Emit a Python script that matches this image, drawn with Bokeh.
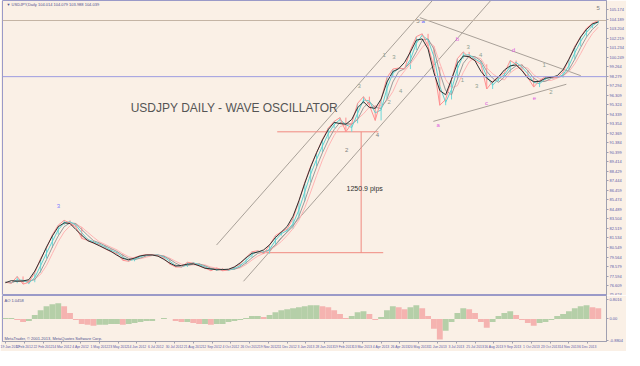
import pandas as pd
from bokeh.plotting import figure
from bokeh.layouts import column
from bokeh.models import FixedTicker, Label, Span
from bokeh.core.properties import value
from bokeh.embed import file_html
from bokeh.resources import INLINE

# ---------------- data (weekly samples of the daily chart, bar index step 5) ----------------
close = [76.95, 76.85, 77.55, 76.76, 76.95, 77.94, 79.42, 80.50, 81.88, 82.86,
         83.36, 83.06, 82.67, 81.49, 81.29, 80.99, 80.79, 80.40, 80.11, 79.91,
         79.22, 79.12, 79.52, 79.71, 79.81, 79.81, 79.71, 79.42, 78.83, 78.53,
         78.53, 79.02, 78.92, 78.63, 78.43, 78.14, 78.43, 78.14, 78.23, 78.53,
         78.83, 79.52, 80.11, 80.21, 79.91, 80.79, 81.78, 82.17, 82.47, 83.55,
         85.33, 87.30, 88.97, 90.35, 91.73, 92.91, 93.60, 93.99, 92.52, 93.40,
         95.47, 96.16, 95.27, 93.70, 95.87, 98.13, 99.02, 99.12, 99.02, 100.99,
         102.37, 102.66, 101.38, 99.22, 95.27, 95.87, 97.93, 100.10, 100.79, 100.20,
         99.90, 99.51, 96.95, 97.74, 98.23, 98.62, 99.90, 99.51, 98.92, 98.13,
         97.15, 97.84, 98.23, 98.13, 98.13, 98.72, 100.00, 101.38, 102.37, 103.25,
         103.75, 104.04]
osc = [0.04, 0.04, -0.04, -0.12, -0.08, 0.16, 0.36, 0.52, 0.60, 0.64,
       0.52, 0.24, -0.04, -0.20, -0.24, -0.28, -0.24, -0.24, -0.20, -0.20,
       -0.24, -0.20, -0.16, -0.12, -0.08, -0.08, 0.00, 0.04, 0.00, -0.08,
       -0.12, -0.12, -0.16, -0.20, -0.20, -0.24, -0.20, -0.20, -0.12, -0.08,
       -0.04, 0.04, 0.12, 0.12, 0.08, 0.16, 0.28, 0.36, 0.40, 0.44,
       0.48, 0.52, 0.56, 0.56, 0.52, 0.48, 0.36, 0.20, 0.04, 0.12,
       0.28, 0.32, 0.20, -0.04, 0.08, 0.36, 0.52, 0.48, 0.40, 0.48,
       0.56, 0.44, 0.12, -0.40, -0.84, -0.48, -0.12, 0.24, 0.44, 0.40,
       0.24, -0.12, -0.36, -0.12, 0.12, 0.24, 0.32, 0.16, -0.04, -0.16,
       -0.28, -0.16, -0.12, -0.04, 0.12, 0.20, 0.32, 0.44, 0.52, 0.56,
       0.48, 0.44]
bar_step = 5

date_labels = ["19 Jan 2012", "3 Feb 2012", "22 Feb 2012", "14 Mar 2012", "4 Apr 2012",
               "1 May 2012", "23 May 2012", "14 Jun 2012", "6 Jul 2012", "30 Jul 2012",
               "21 Aug 2012", "12 Sep 2012", "4 Oct 2012", "26 Oct 2012", "19 Nov 2012",
               "11 Dec 2012", "3 Jan 2013", "28 Jan 2013", "19 Feb 2013", "13 Mar 2013",
               "4 Apr 2013", "26 Apr 2013", "20 May 2013", "11 Jun 2013", "3 Jul 2013",
               "25 Jul 2013", "16 Aug 2013", "9 Sep 2013", "1 Oct 2013", "23 Oct 2013",
               "14 Nov 2013", "6 Dec 2013"]
date_tick_step = 16

price_ticks = [105.174, 104.189, 103.204, 102.219, 101.234, 100.249, 99.264, 98.279,
               97.294, 96.309, 95.324, 94.339, 93.354, 92.369, 91.384, 90.399, 89.414,
               88.429, 87.444, 86.459, 85.474, 84.489, 83.504, 82.519, 81.534, 80.549,
               79.564, 78.579, 77.594, 76.609, 75.624]
osc_ticks = [0.80, 0.0, -0.88]
osc_tick_labels = ["0.8016", "0.00", "-0.8804"]

current_price = 104.039
marked_level = 98.230
measure_low = 80.010
measure_high = 92.519

# trend lines: (bar0, price0, bar1, price1)
trend_lines = {
    "chan_up":  (179.8, 80.80, 363.7, 106.11),
    "chan_lo":  (202.8, 77.05, 413.4, 106.11),
    "tri_up":   (353.0, 104.34, 490.1, 98.33),
    "tri_lo":   (364.5, 93.60, 477.8, 97.44),
}

# wave labels
lab_x = [45.2, 505.0, 351.4, 355.8, 385.0, 368.6, 409.7, 432.7, 450.7, 290.6, 316.9,
         301.3, 322.7, 330.9, 336.6, 326.8, 394.1, 404.8, 389.2, 401.5, 459.0, 464.7]
lab_y = [84.83, 105.32, 104.04, 104.04, 102.17, 93.21, 95.47, 100.99, 96.06, 90.65, 92.22,
         97.25, 100.50, 100.30, 96.75, 95.57, 101.28, 100.50, 97.93, 97.25, 99.41, 96.65]
lab_t = ["3", "5", "5", "a", "b", "a", "c", "d", "e", "2", "4",
         "3", "1", "3", "4", "2", "3", "4", "1", "3", "1", "2"]
lab_c = ["#8080ff", "#808080", "#808080", "#6060ff", "#e060e0", "#e060e0", "#e060e0",
         "#e060e0", "#e060e0", "#808080", "#808080",
         "#90a090", "#90a090", "#90a090", "#90a090", "#90a090", "#90a090", "#90a090",
         "#90a090", "#90a090", "#90a090", "#90a090"]

# ---------------- derived series ----------------
bars = [i * bar_step for i in range(len(close))]
s = pd.Series(close)
opens = [close[0]] + close[:-1]
sma2 = s.rolling(2, min_periods=1).mean().tolist()
sma3 = s.rolling(3, min_periods=1).mean().tolist()
sma4 = s.rolling(4, min_periods=1).mean().tolist()
smac = s.rolling(3, center=True, min_periods=1).mean().tolist()
cand_col = ["#6fd8d8" if c >= o else "#ff8f8f" for o, c in zip(opens, close)]

BG = "#faf0e6"
AX = "#5a5aa8"
FW = 604

p = figure(frame_width=FW, frame_height=295, x_range=(-2.5, 512), y_range=(75.58, 106.11),
           output_backend="svg", toolbar_location=None, background_fill_color=BG,
           border_fill_color=BG, min_border_left=2, min_border_right=18,
           min_border_top=0, min_border_bottom=0, y_axis_location="right")
p.xaxis.visible = False
p.xgrid.visible = False
p.ygrid.visible = False
p.outline_line_color = "#9a9ac8"
p.yaxis.ticker = FixedTicker(ticks=price_ticks)
p.yaxis.major_label_overrides = {t: f"{t:.3f}" for t in price_ticks}
p.yaxis.major_label_text_font_size = "4px"
p.yaxis.major_label_text_color = AX
p.yaxis.major_label_text_font = "Liberation Sans"
p.yaxis.axis_line_color = "#a0a0b0"
p.yaxis.major_tick_line_color = "#a0a0b0"
p.yaxis.major_tick_out = 2
p.yaxis.major_tick_in = 0
p.yaxis.minor_tick_line_color = None
p.yaxis.major_label_standoff = 1

# horizontal level lines
p.add_layout(Span(location=current_price, dimension="width", line_color="#c4b4a4", line_width=1))
p.add_layout(Span(location=marked_level, dimension="width", line_color="#9c9ce0", line_width=1))

# trend lines
tl = list(trend_lines.values())
p.segment(x0=[t[0] for t in tl], y0=[t[1] for t in tl], x1=[t[2] for t in tl], y1=[t[3] for t in tl],
          line_color="#a8a098", line_width=1)

# measurement
p.segment(x0=[231.5, 217.6, 303.0], y0=[measure_high, measure_low, measure_low],
          x1=[317.7, 321.8, 303.0], y1=[measure_high, measure_low, measure_high],
          line_color="#f08a80", line_width=1)
p.text(x=[290.6], y=[86.70], text=[f"{(measure_high - measure_low) * 100:.1f} pips"],
       text_font=value("Liberation Sans"), text_font_size="7px", text_color="#303030",
       text_baseline="middle", text_align="left")

# price band
p.segment(x0=bars, y0=opens, x1=bars, y1=close, line_color=cand_col, line_width=1)
p.line(bars, sma4, line_color="#ffb4b4", line_width=1)
p.line(bars, sma3, line_color="#9a9a9a", line_width=1)
p.line(bars, sma2, line_color="#5fd0d0", line_width=1)
p.line(bars, close, line_color="#ff9090", line_width=1)
p.line(bars, smac, line_color="#303030", line_width=1)

# wave labels
p.text(x=lab_x, y=lab_y, text=lab_t, text_color=lab_c, text_font=value("Liberation Sans"),
       text_font_size="6px", text_align="center", text_baseline="middle")

# title
p.text(x=[106.7], y=[94.98], text=["USDJPY DAILY - WAVE OSCILLATOR"],
       text_font=value("Liberation Sans"), text_font_size="12px", text_color="#555555",
       text_baseline="middle", text_align="left")

# header
p.add_layout(Label(x=4, y=289, x_units="screen", y_units="screen",
                   text="\u25bc USDJPY,Daily  104.014 104.079 103.988 104.039",
                   text_font_size="4px", text_color="#505090", text_font="Liberation Sans"))

# highlighted price labels on axis
for lvl in (current_price, marked_level):
    p.add_layout(Label(x=FW + 2, y=lvl, x_units="screen", y_units="data", text=f"{lvl:.3f}",
                       text_font_size="4px", text_color="white", text_font="Liberation Sans",
                       text_baseline="middle", background_fill_color="#1c1cc8",
                       padding=1))

# ---------------- oscillator ----------------
osc_prev = [osc[0]] + osc[:-1]
osc_col = ["#b5cfa8" if v >= pv else "#f5b3b0" for v, pv in zip(osc, osc_prev)]
q = figure(frame_width=FW, frame_height=46, x_range=p.x_range, y_range=(-0.92, 0.96),
           output_backend="svg", toolbar_location=None, background_fill_color=BG,
           border_fill_color=BG, min_border_left=2, min_border_right=18,
           min_border_top=0, min_border_bottom=0, y_axis_location="right")
q.vbar(x=bars, top=osc, bottom=0, width=bar_step, fill_color=osc_col, line_color=None)
q.xgrid.visible = False
q.ygrid.visible = False
q.outline_line_color = "#9a9ac8"
q.yaxis.ticker = FixedTicker(ticks=osc_ticks)
q.yaxis.major_label_overrides = {t: l for t, l in zip(osc_ticks, osc_tick_labels)}
date_ticks = [i * date_tick_step for i in range(len(date_labels))]
q.xaxis.ticker = FixedTicker(ticks=date_ticks)
q.xaxis.major_label_overrides = {t: l for t, l in zip(date_ticks, date_labels)}
for ax in (q.xaxis, q.yaxis):
    ax.major_label_text_font_size = "4px"
    ax.major_label_text_color = AX
    ax.major_label_text_font = "Liberation Sans"
    ax.axis_line_color = "#a0a0b0"
    ax.major_tick_line_color = "#a0a0b0"
    ax.major_tick_out = 2
    ax.major_tick_in = 0
    ax.minor_tick_line_color = None
    ax.major_label_standoff = 1
q.xaxis.major_label_text_font_size = "3.4px"
q.xaxis.major_label_text_align = "left"
q.add_layout(Label(x=2, y=39, x_units="screen", y_units="screen", text="AO 1.0458",
                   text_font_size="4px", text_color="#505090", text_font="Liberation Sans"))
q.add_layout(Label(x=2, y=1, x_units="screen", y_units="screen",
                   text="MetaTrader, \u00a9 2001-2013, MetaQuotes Software Corp.",
                   text_font_size="4px", text_color="#505090", text_font="Liberation Sans"))

layout = column(p, q, spacing=0)
open("out.html", "w").write(file_html(layout, INLINE))
